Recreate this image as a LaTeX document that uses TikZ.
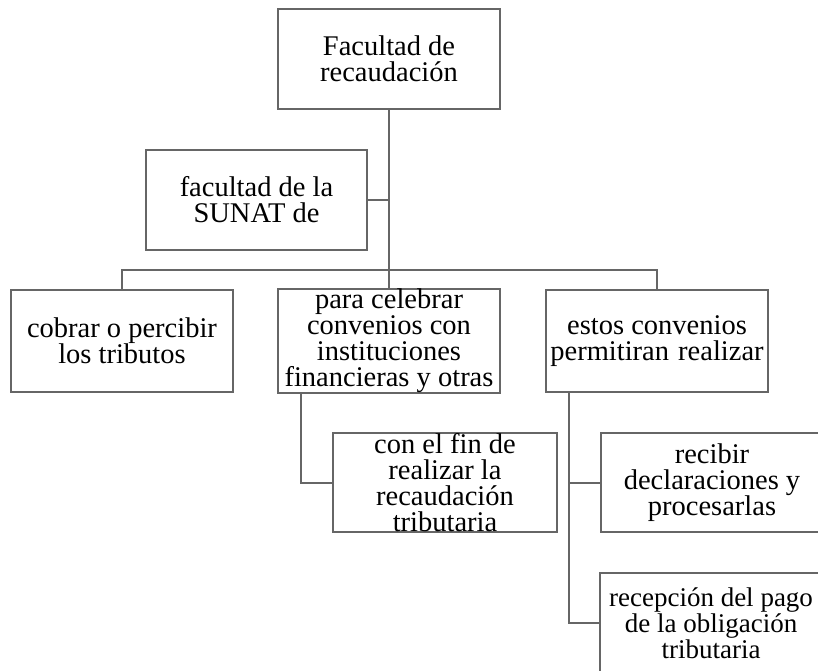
\documentclass[tikz,border=0pt]{standalone}
\usepackage{fontspec}
\setmainfont{Liberation Serif}
\definecolor{linegray}{HTML}{666666}
\begin{document}
\begin{tikzpicture}[x=1pt,y=-1pt,
  box/.style={draw=linegray, line width=2pt, fill=white, inner sep=0pt,
    minimum width=222pt, minimum height=100pt, align=center,
    font=\fontsize{28.5}{26}\selectfont},
  conn/.style={draw=linegray, line width=2pt}]
\clip (0,0) rectangle (818,670);
\fill[white] (0,0) rectangle (818,670);
\node[box] (top) at (389,59) {Facultad de\\recaudación};
\node[box, minimum width=221pt] (sunat) at (256.5,199.5) {facultad de la\\SUNAT de};
\node[box, minimum height=102pt] (left) at (122,341) {cobrar o percibir\\los tributos};
\node[box, minimum height=102pt] (mid) at (389,341) {para celebrar\\convenios con\\instituciones\\financieras y otras};
\node[box, minimum height=102pt] (right) at (657,341) {estos convenios\\permitiran\hspace{2pt} realizar};
\node[box, minimum width=224pt, minimum height=99pt] (fin) at (445,482.5) {con el fin de\\realizar la\\recaudación\\tributaria};
\node[box, minimum height=99pt] (recibir) at (712,482.5) {recibir\\declaraciones y\\procesarlas};
\node[box, font=\fontsize{27}{26}\selectfont] (recep) at (711,623) {recepción del pago\\de la obligación\\tributaria};
\coordinate (mb) at ([xshift=-88pt]mid.south);
\coordinate (rb) at ([xshift=-88pt]right.south);
\draw[conn] (top.south) -- (mid.north);
\draw[conn] (sunat.east) -- (sunat.east -| top.south);
\draw[conn] (left.north) -- ++(0,-19) -| (right.north);
\draw[conn] (mb) |- (fin.west);
\draw[conn] (rb) |- (recep.west);
\draw[conn] (recibir.west) -- (recibir.west -| rb);
\end{tikzpicture}
\end{document}
